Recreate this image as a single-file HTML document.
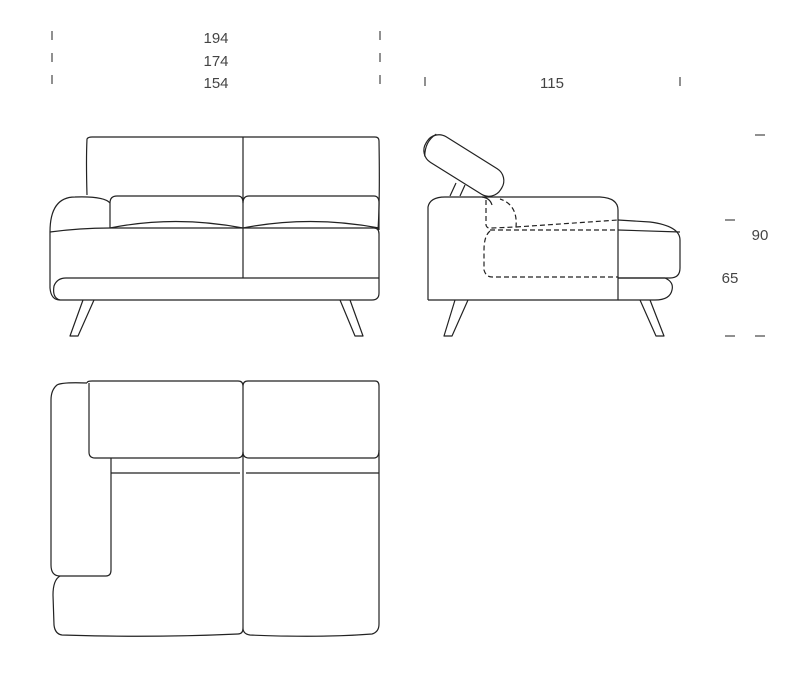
<!DOCTYPE html>
<html><head><style>html,body{margin:0;padding:0;background:#fff;}svg{display:block}</style></head>
<body>
<svg width="798" height="682" viewBox="0 0 798 682" xmlns="http://www.w3.org/2000/svg">
<g stroke="#555" stroke-width="1.3" fill="none">
<line x1="52" y1="31" x2="52" y2="40"/><line x1="52" y1="53" x2="52" y2="62"/><line x1="52" y1="75" x2="52" y2="84"/>
<line x1="380" y1="31" x2="380" y2="40"/><line x1="380" y1="53" x2="380" y2="62"/><line x1="380" y1="75" x2="380" y2="84"/>
<line x1="425" y1="77" x2="425" y2="86"/><line x1="680" y1="77" x2="680" y2="86"/>
<line x1="755" y1="135" x2="765" y2="135"/><line x1="725" y1="220" x2="735" y2="220"/>
<line x1="725" y1="336" x2="735" y2="336"/><line x1="755" y1="336" x2="765" y2="336"/>
</g>
<g font-family="Liberation Sans, sans-serif" font-size="15" fill="#444" text-anchor="middle">
<text x="216" y="43">194</text><text x="216" y="66">174</text><text x="216" y="88">154</text>
<text x="552" y="88">115</text><text x="760" y="240">90</text><text x="730" y="283">65</text>
</g>
<g stroke="#222" stroke-width="1.2" fill="none" stroke-linejoin="round">
<!-- front view -->
<path d="M87,195 Q86,160 87,139 Q88,137 92,137 L375,137 Q379,137 379,141 Q380,200 378,230"/>
<line x1="243" y1="137" x2="243" y2="278"/>
<path d="M110,228 L110,203 Q110,196 117,196 L238,196 Q243,196 243,203 Q243,196 249,196 L374,196 Q379,196 379,203 L379,230"/>
<path d="M110,228 Q175,215 243,228 Q310,215 379,228"/>
<path d="M50,232 Q50,197 75,197 Q104,196 110,203"/>
<path d="M50,232 Q80,228 110,228 L374,228 Q379,228 379,234 L379,278"/>
<path d="M50,232 L50,288 Q51,300 60,300 L372,300 Q379,300 379,293 L379,278"/>
<path d="M60,300 Q52,298 54,286 Q57,278 66,278 L379,278"/>
<path d="M83,300 L70,336 L78,336 L94,300"/>
<path d="M340,300 L355,336 L363,336 L350,300"/>
<!-- side view -->
<g transform="rotate(32 463 165)"><rect x="420" y="150" width="88" height="30" rx="14"/><path d="M424,153 Q418,165 426,178"/></g>
<path d="M450,196 L456,183 M460,196 L465,185"/>
<path d="M428,300 L428,207 Q430,197 445,197 L482,197 Q490,198 492,205"/>
<path d="M482,197 L600,197 Q618,198 618,210 L618,300 L428,300"/>
<path d="M618,220 L650,222 Q680,226 680,240 L680,268 Q680,278 670,278 L618,278"/>
<path d="M618,230 L680,232"/>
<path d="M618,278 L665,278 Q674,282 672,290 Q670,300 655,300 L618,300"/>
<path d="M455,300 L444,336 L452,336 L468,300"/>
<path d="M640,300 L656,336 L664,336 L650,300"/>
<g stroke-dasharray="5,3">
<path d="M486,200 L486,225 Q487,229 492,228 L516,227 Q518,205 500,199"/>
<path d="M516,227 L618,220"/>
<path d="M490,230 L618,230"/>
<path d="M490,231 Q484,236 484,250 L484,270 Q486,277 492,277 L618,277"/>
</g>
<!-- plan view -->
<path d="M87,383 Q62,382 57,385 Q51,390 51,400 L51,565 Q51,576 60,576 L106,576 Q111,576 111,570 L111,458"/>
<path d="M60,576 Q53,580 53,595 L54,625 Q55,634 62,635 Q150,638 238,634 Q243,634 243,628 Q243,634 250,635 Q320,638 372,634 Q379,632 379,624 L379,473"/>
<path d="M87,383 Q87,381 92,381 L238,381 Q243,381 243,386 Q243,381 248,381 L375,381 Q379,381 379,386 L379,473"/>
<path d="M89,383 L89,452 Q89,458 95,458 L237,458 Q243,458 243,452 Q243,458 249,458 L374,458 Q379,458 379,450"/>
<line x1="243" y1="386" x2="243" y2="628"/>
<path d="M111,473 L240,473 M246,473 L379,473"/>
</g>
</svg>
</body></html>
